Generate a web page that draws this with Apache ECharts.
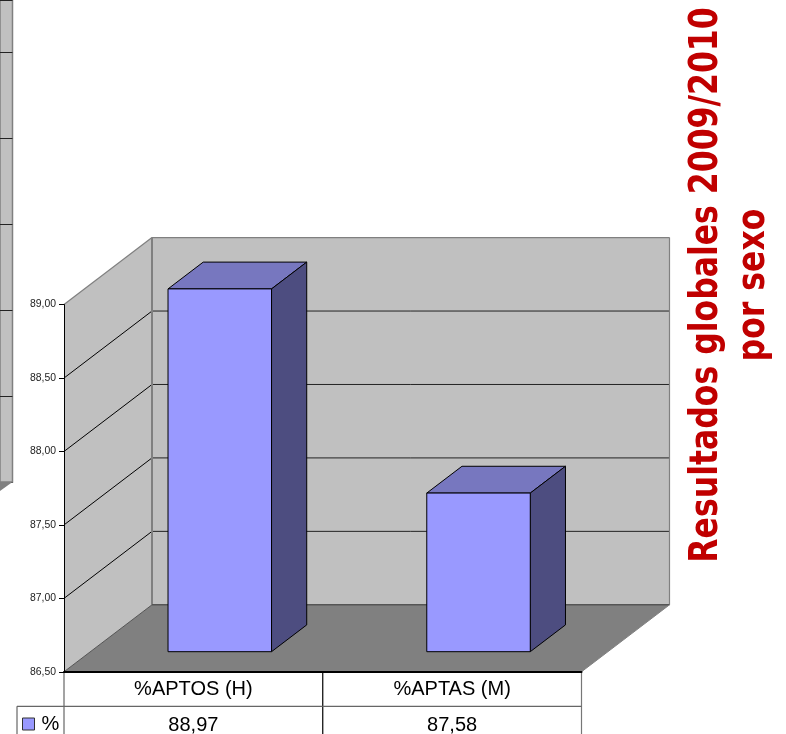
<!DOCTYPE html>
<html><head><meta charset="utf-8">
<style>html,body{margin:0;padding:0;background:#fff}#c{width:786px;height:734px}</style>
<script src="https://cdn.jsdelivr.net/npm/echarts@6/dist/echarts.min.js"></script>
</head><body><div id="c"></div>
<script>
const categories = ['%APTOS (H)', '%APTAS (M)'];
const values = [88.97, 87.58];
const valueLabels = ['88,97', '87,58'];
const seriesName = '%';
const titleLines = 'Resultados globales 2009/2010\npor sexo';
const yMin = 86.5, yMax = 89, yStep = 0.5;
const yTicks = [86.5, 87, 87.5, 88, 88.5, 89];

const DX = 88, DY = 67;
const sans = '"Liberation Sans", Arial, sans-serif';
const chart = echarts.init(document.getElementById('c'), null, {renderer: 'canvas'});

function poly(pts, fill, stroke, lw) {
  return {type: 'polygon', shape: {points: pts}, style: {fill: fill, stroke: stroke || null, lineWidth: lw || 0, lineJoin: 'round'}};
}
function seg(a, b, stroke, lw) {
  return {type: 'line', shape: {x1: a[0], y1: a[1], x2: b[0], y2: b[1]}, style: {stroke: stroke, lineWidth: lw || 1}};
}
function renderWalls(params, api) {
  const L = api.coord([0, yMin]);
  const bw = api.size([1, 0])[0];
  const x0 = L[0] - bw / 2, x1 = x0 + bw * categories.length;
  const yB = L[1], yT = api.coord([0, yMax])[1];
  const ch = [];
  ch.push(poly([[x0 + DX, yT - DY], [x1 + DX, yT - DY], [x1 + DX, yB - DY], [x0 + DX, yB - DY]], '#c0c0c0'));
  ch.push(poly([[x0, yT], [x0 + DX, yT - DY], [x0 + DX, yB - DY], [x0, yB]], '#c0c0c0'));
  ch.push(poly([[x0, yB], [x0 + DX, yB - DY], [x1 + DX, yB - DY], [x1, yB]], '#808080'));
  yTicks.forEach(function (t) {
    const y = api.coord([0, t])[1];
    if (t === yMin) return;
    if (t !== yMax) {
      ch.push(seg([x0, y], [x0 + DX, y - DY], '#000', 1));
      ch.push(seg([x0 + DX, y - DY], [x1 + DX, y - DY], '#222', 1));
    }
  });
  ch.push(seg([x0, yT], [x0 + DX, yT - DY], '#808080', 1.2));
  ch.push(seg([x0 + DX, yT - DY], [x1 + DX, yT - DY], '#808080', 1.2));
  ch.push(seg([x1 + DX, yT - DY], [x1 + DX, yB - DY], '#808080', 1.2));
  ch.push(seg([x0 + DX, yT - DY], [x0 + DX, yB - DY], '#808080', 2));
  ch.push(seg([x0 + DX, yB - DY], [x1 + DX, yB - DY], '#555', 1.5));
  ch.push(seg([x0, yB], [x0 + DX, yB - DY], '#555', 1));
  ch.push(seg([x1, yB], [x1 + DX, yB - DY], '#808080', 1));
  return {type: 'group', children: ch};
}
function renderBar(params, api) {
  const i = api.value(0);
  const c = api.coord([i, api.value(1)]);
  const base = api.coord([i, yMin])[1];
  const band = api.size([1, 0])[0];
  const w = band * 0.4;
  const fx = c[0] - w / 2 + DX * 0.3, fy = DY * 0.3;
  const dx = DX * 0.4, dy = DY * 0.4;
  const l = fx, r = fx + w, t = c[1] - fy, b = base - fy;
  return {type: 'group', children: [
    poly([[l, t], [l + dx, t - dy], [r + dx, t - dy], [r, t]], '#7777bf', '#000', 1),
    poly([[r, t], [r + dx, t - dy], [r + dx, b - dy], [r, b]], '#4d4d80', '#000', 1),
    poly([[l, t], [r, t], [r, b], [l, b]], '#9999ff', '#000', 1)
  ]};
}
function renderTable(params, api) {
  const i = api.value(0);
  const c = api.coord([i, yMin]);
  const band = api.size([1, 0])[0];
  const yB = c[1];
  const x0 = c[0] - band / 2;
  const rowTop = yB + 34.5;
  const ch = [
    {type: 'text', x: c[0], y: rowTop + 19, style: {text: valueLabels[i], font: '20px ' + sans, fill: '#000', align: 'center', verticalAlign: 'middle'}},
    seg([x0 + band, yB], [x0 + band, 740], i === categories.length - 1 ? '#777' : '#000', 1.2),
    seg([x0, rowTop], [x0 + band, rowTop], '#666', 1.2)
  ];
  if (i === 0) {
    ch.push(seg([x0, yB], [x0, 740], '#666', 1.2));
    ch.push(seg([x0 - 47, rowTop], [x0, rowTop], '#666', 1.2));
    ch.push(seg([x0 - 47, rowTop], [x0 - 47, 740], '#666', 1.2));
  }
  return {type: 'group', children: ch};
}
const barData = values.map(function (v, i) { return [i, v]; });
chart.setOption({
  animation: false,
  backgroundColor: '#fff',
  legend: {
    data: [seriesName], left: 22, top: 714, itemWidth: 12, itemHeight: 12, itemGap: 0,
    icon: 'rect', padding: 0,
    textStyle: {fontFamily: sans, fontSize: 20, color: '#000', padding: [3, 0, 0, 2]},
    itemStyle: {color: '#9999ff', borderColor: '#333', borderWidth: 1}
  },
  grid: [
    {left: 64, top: 304.6, width: 517.5, height: 367.2, containLabel: false},
    {left: 0, top: 0, width: 12.5, height: 482, outerBoundsMode: 'none', show: true, backgroundColor: '#c0c0c0', borderColor: '#808080', borderWidth: 1.5}
  ],
  xAxis: [
    {type: 'category', gridIndex: 0, data: categories, z: 10,
     axisLine: {lineStyle: {color: '#000', width: 2}}, axisTick: {show: false},
     axisLabel: {fontFamily: sans, fontSize: 20, color: '#000', margin: 8}},
    {type: 'value', gridIndex: 1, min: 0, max: 1, show: false}
  ],
  yAxis: [
    {type: 'value', gridIndex: 0, min: yMin, max: yMax, interval: yStep, z: 10,
     axisLine: {show: true, lineStyle: {color: '#000', width: 1}},
     axisTick: {show: true, length: 5, lineStyle: {color: '#000'}},
     splitLine: {show: false},
     axisLabel: {fontFamily: sans, fontSize: 10.4, color: '#222', margin: 8,
       formatter: function (v) { return v.toFixed(2).replace('.', ','); }}},
    {type: 'value', gridIndex: 1, min: 0, max: 5.605, interval: 1,
     axisLine: {show: false}, axisTick: {show: false}, axisLabel: {show: false},
     splitLine: {show: true, lineStyle: {color: '#222', width: 1}}}
  ],
  series: [
    {type: 'custom', name: 'walls', xAxisIndex: 0, yAxisIndex: 0, z: 1, silent: true, clip: false,
     data: [[0, yMin]], renderItem: renderWalls, encode: {x: 0, y: 1}},
    {type: 'custom', name: seriesName, xAxisIndex: 0, yAxisIndex: 0, z: 3, clip: false,
     itemStyle: {color: '#9999ff'},
     data: barData, renderItem: renderBar, encode: {x: 0, y: 1}},
    {type: 'custom', name: 'table', xAxisIndex: 0, yAxisIndex: 0, z: 4, silent: true, clip: false,
     data: barData, renderItem: renderTable, encode: {x: 0, y: 1}}
  ],
  graphic: [
    {type: 'polygon', shape: {points: [[0, 491], [12.5, 482], [0, 482]]}, style: {fill: '#808080'}, z: 5},
    {type: 'text', x: 730.5, y: 285, rotation: Math.PI / 2, scaleX: 1, scaleY: 1.25, z: 6,
     style: {text: titleLines, font: 'bold 31.5px "DejaVu Sans"', fill: '#c00000', align: 'center', verticalAlign: 'middle', lineHeight: 37.6}}
  ]
});
</script></body></html>
